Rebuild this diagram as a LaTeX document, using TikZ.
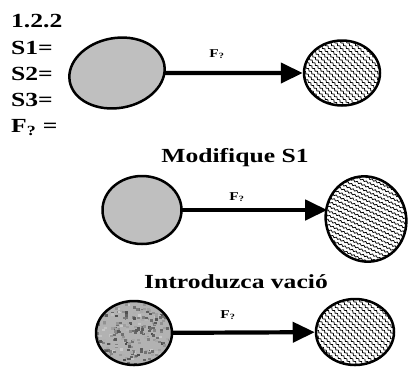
\documentclass[tikz,border=0pt]{standalone}
\usepackage{fontspec}
\usepackage{graphicx}
\setmainfont{Liberation Serif}
\usetikzlibrary{arrows.meta,shapes.geometric,decorations.pathmorphing}

\newcommand{\widetxt}[1]{\scalebox{1.28}[1]{#1}}

\tikzset{
  heading/.style={font=\bfseries\fontsize{20}{20}\selectfont,inner sep=0pt},
  flabel/.style={font=\bfseries\fontsize{12}{12}\selectfont,inner sep=0pt,anchor=base},
  body/.style={ellipse,draw,line width=2.5pt,inner sep=0pt},
  grey/.style={body,fill=gray!50},
  speckled/.style={body,fill=gray!60,path picture={
      \pgfmathsetseed{7}
      \foreach \i in {1,...,320}{
        \pgfmathsetmacro\px{rand*40}
        \pgfmathsetmacro\py{rand*34}
        \pgfmathsetmacro\sh{int(20+random(50))}
        \fill[black!\sh] ([shift={(\px pt,\py pt)}]path picture bounding box.center) rectangle ++(3pt,2.4pt);
      }}},
  hatched/.style={body,fill=white,path picture={
      \foreach \k in {-102,-96,...,102}
        \draw[line width=0.75pt,decorate,decoration={snake,amplitude=0.8pt,segment length=4pt}]
          ([xshift=\k pt-50pt,yshift=50pt]path picture bounding box.center) -- ++(100pt,-100pt);
      \foreach \dx/\dy in {-22/6,-8/-14,6/10,18/-4,24/18,-4/22,10/-26,-16/-24}
        \fill ([shift={(\dx pt,\dy pt)}]path picture bounding box.center) circle (1pt);
    }},
  push/.style={line width=4.2pt,-{Triangle[length=22pt,width=20pt]}}
}

\begin{document}
\begin{tikzpicture}[x=1pt,y=-1pt,line cap=round,line join=round]
  \useasboundingbox (0,0) rectangle (409,368);

  % data on the left
  \node[heading,anchor=base west] (num) at (11,27) {\widetxt{1.2.2}};
  \node[heading,anchor=base west] (s1) at (11,54) {\widetxt{S1=}};
  \node[heading,anchor=base west] (s2) at (11,80) {\widetxt{S2=}};
  \node[heading,anchor=base west] (s3) at (11,106) {\widetxt{S3=}};
  \node[heading,anchor=base west] (fq) at (11,132) {\widetxt{F\textsubscript{?} =}};

  % first case
  \node[grey,minimum width=96pt,minimum height=70pt,rotate=10] (srcA) at (117,73) {};
  \node[hatched,minimum width=76pt,minimum height=65pt] (dstA) at (342,73) {};
  \draw[push] (srcA) -- (dstA);
  \node[flabel] (fA) at (217,57) {\widetxt{F\textsubscript{?}}};

  % second case
  \node[heading,anchor=base] (modS) at (235,162) {\widetxt{Modifique S1}};
  \node[grey,minimum width=79pt,minimum height=68pt] (srcB) at (142,210) {};
  \node[hatched,minimum width=80pt,minimum height=86pt,rotate=20] (dstB) at (366,219) {};
  \draw[push] (srcB.east) -- (srcB.east -| dstB.west);
  \node[flabel] (fB) at (237,200) {\widetxt{F\textsubscript{?}}};

  % third case
  \node[heading,anchor=base] (vac) at (236,288) {\widetxt{Introduzca vació}};
  \node[speckled,minimum width=76pt,minimum height=64pt] (srcC) at (134,333) {};
  \node[hatched,minimum width=78pt,minimum height=66pt] (dstC) at (355,332) {};
  \draw[push] (srcC) -- (dstC);
  \node[flabel] (fC) at (228,318) {\widetxt{F\textsubscript{?}}};
\end{tikzpicture}
\end{document}
